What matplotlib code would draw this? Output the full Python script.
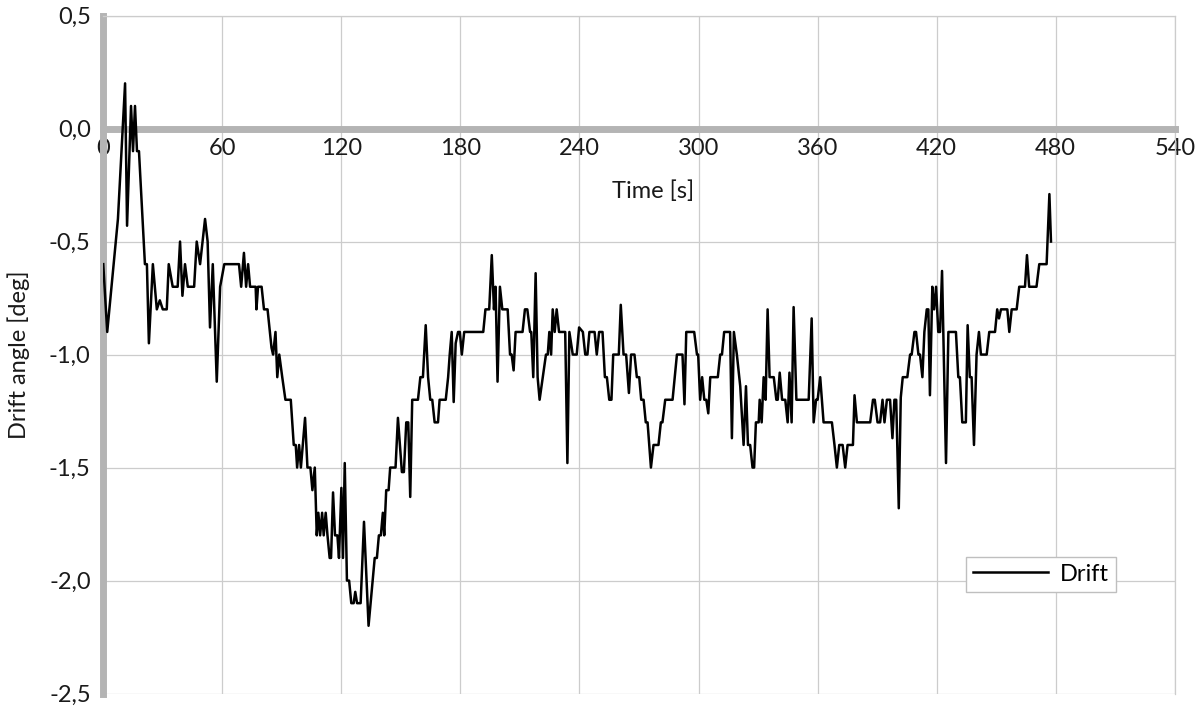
import matplotlib
matplotlib.use("Agg")
import matplotlib.pyplot as plt
from matplotlib.ticker import FuncFormatter, MultipleLocator

# time [s] and drift angle [deg]
time_s = [0, 2, 7.4, 11, 12, 14, 15, 16, 17, 18, 21, 22, 23, 25, 27, 28.5, 30, 32, 33, 35,
          37.5, 38.7, 39.9, 41.2, 42.6, 45.8, 47.1, 48.8, 51.3, 52.6, 53.8, 55.2, 57.2, 58.9,
          61, 68.4, 69.5, 70.9, 72, 73, 74, 76.8, 77.2, 78, 79.8, 81, 82.8,
          84.8, 85.6, 86.8, 87.7, 88.7, 90.2, 91.8, 94.5, 96, 97, 97.7, 98.7, 99.6, 101.7,
          102.9, 104.4, 105.4, 106.6, 107.6, 108.4, 109.3, 110.3, 111.1, 112.1, 113, 114.1,
          114.8, 115.8, 116.8, 118, 118.8, 120, 120.8, 121.7, 122.8, 123.9, 125, 126.2, 127,
          127.9, 129.7, 131.4, 133.7, 136.8, 137.9, 138.9, 139.9, 140.9, 141.6, 142.6, 143.8,
          144.6, 147.3, 148.5, 150.5, 151.5, 152.7, 153.7, 154.7, 155.7, 158.6, 159.8, 161.1,
          162.5, 163.7, 164.8, 165.8, 167, 168.7, 169.5, 172.6, 173.8, 174.6, 175.6, 176.6,
          177.6, 178.8, 179.7, 180.7, 181.9, 191.5, 192.6, 194.5, 195.8, 196.9, 197.7, 198.7,
          199.9, 201.1, 203.8, 205, 205.8, 206.8, 207.8, 211.3, 212.5, 213.7, 215.1, 215.7,
          216.7, 217.9, 218.9, 219.9, 223.1, 224, 224.8, 225.7, 226.5, 227.5, 228.5, 229.7,
          232.8, 233.9, 234.9, 236.6, 238.6, 239.8, 241.7, 242.9, 244, 245, 247.6, 248.7,
          249.9, 251.6, 252.8, 253.8, 255, 256.1, 257, 259.8, 260.8, 262.2, 263.5, 264.9, 266,
          267.7, 268.9, 270.1, 271.1, 272.3, 273.4, 274.3, 276, 277.3, 279.8, 281, 281.8,
          283.2, 286.9, 289.1, 291.9, 292.9, 293.8, 297.8, 299.2, 299.8, 300.8, 301.8, 302.9,
          303.9, 304.9, 305.9, 309.7, 310.9, 311.8, 312.9, 315.9, 316.8, 317.8, 319.3, 321,
          322.7, 323.9, 324.9, 326, 327.2, 328, 328.9, 330.3, 330.8, 331.8, 332.8, 333.8,
          334.8, 335.8, 337.9, 339.2, 339.9, 340.9, 342.1, 343.7, 344.9, 345.8, 346.9, 347.9,
          349.3, 355.5, 357, 358, 359.2, 360, 361.3, 363, 367.2, 368.5, 369.7, 370.9, 372.6,
          373.9, 375.1, 377.8, 378.6, 379.8, 386.5, 387.9, 388.8, 390.2, 391.5, 392.7, 393.7,
          394.9, 396.5, 397.7, 398.7, 399.6, 400.9, 401.9, 402.9, 405.2, 406.6, 407.4, 408.8,
          409.6, 410.8, 411.6, 412.8, 413.8, 415, 415.8, 416.6, 417.8, 418.7, 419.7, 420.8,
          421.7, 422.7, 424.7, 425.9, 429.7, 430.9, 431.7, 432.9, 434.7, 435.6, 436.7, 437.6,
          438.8, 440.1, 441.3, 442.3, 445.2, 446.5, 449.4, 450.5, 451.4, 452.4, 455.6, 456.6,
          457.8, 460.3, 461.6, 464.5, 465.5, 466.6, 470.3, 471.7, 475.4, 476.8, 477.6]

drift_deg = [-0.6, -0.9, -0.4, 0.2, -0.43, 0.1, -0.1, 0.1, -0.1, -0.1, -0.6, -0.6, -0.95, -0.6,
             -0.8, -0.76, -0.8, -0.8, -0.6, -0.7, -0.7, -0.5, -0.74, -0.6, -0.7, -0.7, -0.5,
             -0.6, -0.4, -0.5, -0.88, -0.6, -1.12, -0.7, -0.6, -0.6, -0.7, -0.55, -0.7, -0.6,
             -0.7, -0.7, -0.8, -0.7, -0.7, -0.8, -0.8,
             -0.97, -1.0, -0.9, -1.1, -1.0, -1.1, -1.2, -1.2, -1.4, -1.4, -1.5, -1.4, -1.5,
             -1.28, -1.5, -1.5, -1.6, -1.5, -1.8, -1.7, -1.8, -1.7, -1.8, -1.7, -1.8, -1.9,
             -1.9, -1.61, -1.8, -1.8, -1.9, -1.59, -1.9, -1.48, -2.0, -2.0, -2.1, -2.1, -2.05,
             -2.1, -2.1, -1.74, -2.2, -1.9, -1.9, -1.8, -1.8, -1.7, -1.8, -1.6, -1.6,
             -1.5, -1.5, -1.28, -1.52, -1.52, -1.3, -1.3, -1.63, -1.2, -1.2, -1.1, -1.1,
             -0.87, -1.1, -1.2, -1.2, -1.3, -1.3, -1.2, -1.2, -1.1, -1.0, -0.9, -1.21,
             -0.95, -0.9, -0.9, -1.0, -0.9, -0.9, -0.8, -0.8, -0.56, -0.8, -0.7, -1.12,
             -0.7, -0.8, -0.8, -1.0, -1.0, -1.07, -0.9, -0.9, -0.8, -0.8, -0.9, -0.9,
             -1.1, -0.64, -1.1, -1.2, -1.0, -1.0, -0.9, -1.0, -0.8, -0.9, -0.8, -0.9,
             -0.9, -1.48, -0.9, -1.0, -1.0, -0.88, -0.9, -1.0, -1.0, -0.9, -0.9, -1.0,
             -0.9, -0.9, -1.1, -1.1, -1.2, -1.2, -1.0, -1.0, -0.78, -1.0, -1.0, -1.17, -1.0,
             -1.0, -1.1, -1.1, -1.2, -1.2, -1.3, -1.3, -1.5, -1.4, -1.4, -1.3, -1.3,
             -1.2, -1.2, -1.0, -1.0, -1.22, -0.9, -0.9, -1.0, -1.0, -1.2, -1.1, -1.2,
             -1.2, -1.26, -1.1, -1.1, -1.0, -1.0, -0.9, -0.9, -1.37, -0.9, -1.0, -1.14,
             -1.4, -1.14, -1.4, -1.4, -1.5, -1.5, -1.3, -1.3, -1.2, -1.3, -1.1, -1.2,
             -0.8, -1.1, -1.1, -1.2, -1.2, -1.08, -1.2, -1.2, -1.3, -1.08, -1.3, -0.79,
             -1.2, -1.2, -0.84, -1.3, -1.2, -1.2, -1.1, -1.3, -1.3, -1.4, -1.5, -1.4, -1.4,
             -1.5, -1.4, -1.4, -1.18, -1.3, -1.3, -1.2, -1.2, -1.3, -1.3, -1.2, -1.3,
             -1.2, -1.2, -1.37, -1.2, -1.2, -1.68, -1.19, -1.1, -1.1, -1.0, -1.0, -0.9,
             -0.9, -1.0, -1.0, -1.1, -0.9, -0.8, -0.8, -1.18, -0.7, -0.8, -0.7, -0.9,
             -0.9, -0.63, -1.48, -0.9, -0.9, -1.1, -1.1, -1.3, -1.3, -0.87, -1.1, -1.1,
             -1.4, -1.0, -0.9, -1.0, -1.0, -0.9, -0.9, -0.8, -0.84, -0.8, -0.8, -0.9,
             -0.8, -0.8, -0.7, -0.7, -0.56, -0.7, -0.7, -0.6, -0.6, -0.29, -0.5]

x_ticks = list(range(0, 541, 60))

plt.rcParams['font.family'] = ['Lato', 'DejaVu Sans']

grid_col = '#cccccc'
axis_col = '#b4b4b4'
text_col = '#1a1a1a'
fs = 17

fig = plt.figure(figsize=(11.95, 7.07), dpi=100)
ax = fig.add_axes([0.0864, 0.019, 0.8967, 0.959])

ax.plot(time_s, drift_deg, color='black', lw=1.8, label='Drift', zorder=4)

ax.set_xlim(0, 540)
ax.set_ylim(-2.5, 0.5)
ax.set_xticks(x_ticks)
ax.yaxis.set_major_locator(MultipleLocator(0.5))
ax.yaxis.set_major_formatter(FuncFormatter(
    lambda v, p: f"{v:.1f}".replace('.', ',').replace('-0,0', '0,0')))

ax.grid(True, color=grid_col, lw=0.9)
ax.set_axisbelow(True)

ax.spines['bottom'].set_position(('data', 0))
ax.spines['bottom'].set_color(axis_col)
ax.spines['bottom'].set_linewidth(5)
ax.spines['bottom'].set_zorder(3)
ax.spines['left'].set_color(axis_col)
ax.spines['left'].set_linewidth(5)
for s in ['top', 'right']:
    ax.spines[s].set_color(grid_col)
    ax.spines[s].set_linewidth(0.9)

ax.tick_params(axis='both', length=0, labelsize=fs, colors=text_col)
ax.tick_params(axis='x', pad=7)
ax.tick_params(axis='y', pad=9)

ax.set_xlabel('Time [s]', fontsize=fs, color=text_col)
ax.xaxis.set_label_coords(0.513, 0.757)
ax.set_ylabel('Drift angle [deg]', fontsize=fs, color=text_col, labelpad=14)

leg = ax.legend(loc='center', bbox_to_anchor=(0.875, 0.176), fontsize=fs,
                fancybox=False, framealpha=1, edgecolor='#bfbfbf',
                handlelength=3.2, borderpad=0.3, handletextpad=0.5,
                borderaxespad=0)
leg.get_frame().set_linewidth(1)

plt.savefig('out.png', dpi=100)
